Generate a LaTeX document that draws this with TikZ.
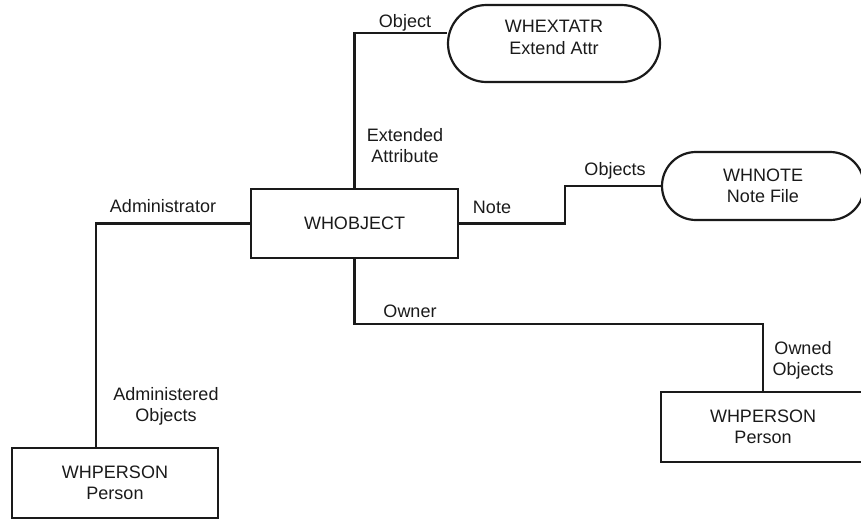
\documentclass[tikz,border=0pt]{standalone}
\usepackage{fontspec}
\setmainfont{Liberation Sans}
\usetikzlibrary{shapes.misc}

\definecolor{ink}{HTML}{1A1A1A}

\tikzset{
  every node/.style={font=\fontsize{18}{21.5}\selectfont, text=ink, inner sep=0pt},
  entity/.style={draw=ink, line width=2.2pt, rectangle, align=center},
  filebox/.style={draw=ink, line width=2.2pt, rounded rectangle, align=center},
  link/.style={draw=ink, line width=2.2pt},
  rolelabel/.style={align=center}
}

\begin{document}
\begin{tikzpicture}[x=1pt, y=-1pt]
  \useasboundingbox (0,0) rectangle (861,520);
  \clip (0,0) rectangle (861,520);

  % entities
  \node[entity, minimum width=207pt, minimum height=69pt] (obj) at (354.5,223.5) {WHOBJECT};
  \node[filebox, minimum width=212pt, minimum height=77pt, text depth=12pt] (extatr) at (554,43.5) {WHEXTATR\\Extend Attr};
  \node[filebox, minimum width=202pt, minimum height=68pt] (note) at (763,186) {WHNOTE\\Note File};
  \node[entity, minimum width=206pt, minimum height=70pt] (pleft) at (115,483) {WHPERSON\\Person};
  \node[entity, minimum width=204pt, minimum height=70pt] (pright) at (763,427) {WHPERSON\\Person};

  % relationship routing points
  \coordinate (xbend) at (354.5,33);
  \coordinate (nstep) at (565,205);
  \coordinate (admfoot) at (96,448);
  \coordinate (owny) at (0,324);

  % relationships
  \draw[link] (obj.north) -- (xbend) -- (extatr.west |- xbend);
  \draw[link] (obj.east) -| (nstep) |- (note.west);
  \draw[link] (obj.west) -| (admfoot);
  \draw[link] (obj.south) |- (owny -| pright.north) -- (pright.north);

  % role names
  \node[anchor=base] (lobject) at (405,27) {Object};
  \node[rolelabel] (lextended) at (405,145.5) {Extended\\Attribute};
  \node[anchor=base] (lnote) at (492,213) {Note};
  \node[anchor=base] (lobjects) at (615,175) {Objects};
  \node[anchor=base] (ladmin) at (163,212) {Administrator};
  \node[rolelabel] (ladministered) at (166,406.5) {Administered\\Objects};
  \node[anchor=base] (lowner) at (410,317) {Owner};
  \node[rolelabel] (lowned) at (803,360.5) {Owned\\Objects};
\end{tikzpicture}
\end{document}
